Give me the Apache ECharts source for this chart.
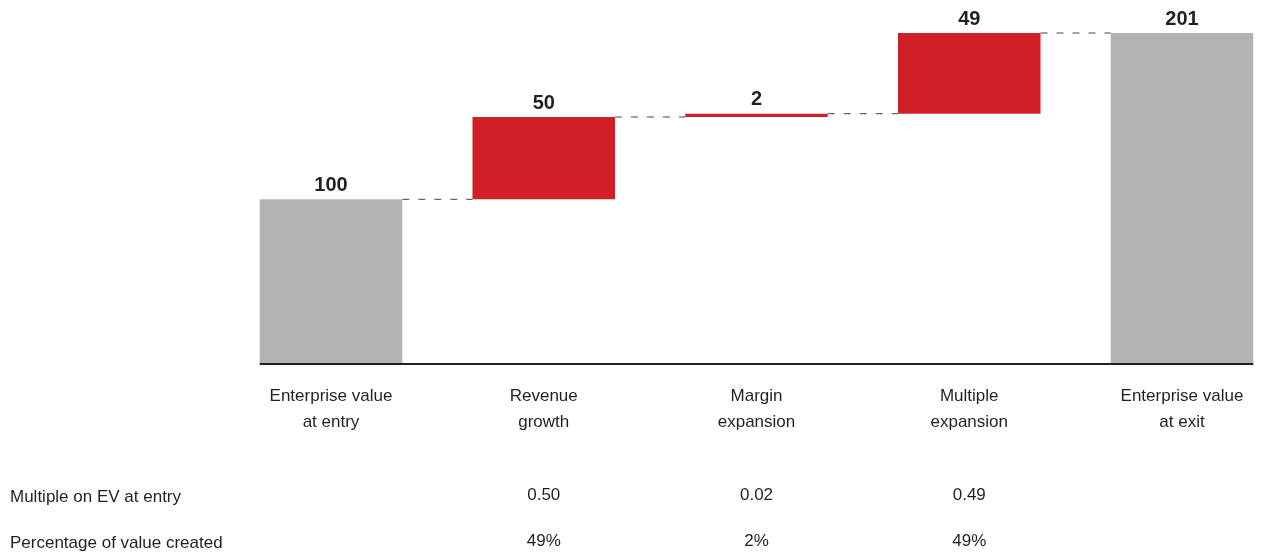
<!DOCTYPE html>
<html>
<head>
<meta charset="UTF-8">
<title>EV bridge</title>
<script src="https://cdn.jsdelivr.net/npm/echarts@6/dist/echarts.min.js"></script>
<style>
  body { margin: 0; background: #fff; }
  #chart { width: 1270px; height: 554px; }
</style>
</head>
<body>
<div id="chart"></div>
<script>
// data
var categories = ['Enterprise value\nat entry', 'Revenue\ngrowth', 'Margin\nexpansion', 'Multiple\nexpansion', 'Enterprise value\nat exit'];
var values = [100, 50, 2, 49, 201];
var isTotal = [true, false, false, false, true];
var rowNames = ['Multiple on EV at entry', 'Percentage of value created'];
var multiples = ['', '0.50', '0.02', '0.49', ''];
var shares = ['', '49%', '2%', '49%', ''];

var GREY = '#b3b3b3';
var RED = '#cf2027';
var INK = '#231f20';
var FONT = 'Liberation Sans, Arial, sans-serif';
var BAR_FRAC = 0.67;

// offsets for floating bars
var base = [];
var running = 0;
for (var i = 0; i < values.length; i++) {
    if (isTotal[i]) {
        base.push(0);
        running = values[i];
    } else {
        base.push(running);
        running += values[i];
    }
}
// level after each bar, for the connectors
var levels = values.map(function (v, i) { return base[i] + v; });

var chart = echarts.init(document.getElementById('chart'));

function connector(params, api) {
    var i = api.value(0);
    var lvl = api.value(1);
    var hw = api.size([1, 0])[0] * BAR_FRAC / 2;
    var a = api.coord([i, lvl]);
    var b = api.coord([i + 1, lvl]);
    return {
        type: 'line',
        shape: { x1: a[0] + hw, y1: a[1], x2: b[0] - hw, y2: b[1] },
        style: { stroke: '#444', lineWidth: 1, lineDash: [7, 9] }
    };
}

function baseline(params, api) {
    var hw = api.size([1, 0])[0] * BAR_FRAC / 2;
    var a = api.coord([0, 0]);
    var b = api.coord([categories.length - 1, 0]);
    return {
        type: 'line',
        shape: { x1: a[0] - hw, y1: a[1], x2: b[0] + hw, y2: b[1] },
        style: { stroke: INK, lineWidth: 2 }
    };
}

var hiddenAxis = {
    type: 'category',
    position: 'bottom',
    boundaryGap: false,
    axisLine: { show: false },
    axisTick: { show: false },
    axisLabel: { interval: 0, fontSize: 17, color: INK, fontFamily: FONT, lineHeight: 26, margin: 0 }
};

chart.setOption({
    animation: false,
    // categories sit on the grid edges so the outer bars can reach past them
    grid: { left: 331, right: 88, top: 33, bottom: 187 },
    xAxis: [
        {
            type: 'category',
            data: categories,
            boundaryGap: false,
            axisLine: { show: false },
            axisTick: { show: false },
            axisLabel: { interval: 0, fontSize: 17, color: INK, fontFamily: FONT, lineHeight: 26, margin: 19 }
        },
        Object.assign({}, hiddenAxis, { data: multiples, offset: 118 }),
        Object.assign({}, hiddenAxis, { data: shares, offset: 164 })
    ],
    yAxis: {
        type: 'value',
        min: 0,
        max: 201,
        show: false
    },
    graphic: rowNames.map(function (name, k) {
        return {
            type: 'text',
            left: 10,
            top: k === 0 ? 489 : 535,
            style: { text: name, fontSize: 17, fill: INK, fontFamily: FONT }
        };
    }),
    series: [
        {
            type: 'bar',
            stack: 'wf',
            clip: false,
            barWidth: (BAR_FRAC * 100) + '%',
            itemStyle: { color: 'transparent' },
            silent: true,
            data: base
        },
        {
            type: 'bar',
            stack: 'wf',
            clip: false,
            barWidth: (BAR_FRAC * 100) + '%',
            data: values.map(function (v, i) {
                return { value: v, itemStyle: { color: isTotal[i] ? GREY : RED } };
            }),
            label: {
                show: true,
                position: 'top',
                distance: 4,
                fontSize: 20,
                fontWeight: 'bold',
                color: INK,
                fontFamily: FONT
            }
        },
        {
            type: 'custom',
            renderItem: connector,
            data: levels.slice(0, -1).map(function (l, i) { return [i, l]; }),
            z: 1
        },
        {
            type: 'custom',
            renderItem: baseline,
            data: [[0, 0]],
            z: 5
        }
    ]
});
</script>
</body>
</html>
